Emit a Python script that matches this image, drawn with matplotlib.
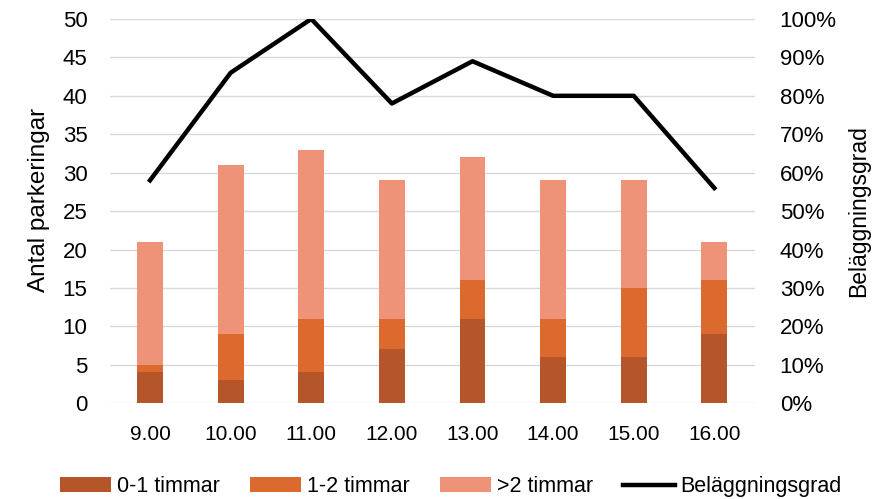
import numpy as np
import matplotlib
matplotlib.use("Agg")
import matplotlib.pyplot as plt
from matplotlib.ticker import PercentFormatter

plt.rcParams['font.family'] = ['Liberation Sans', 'DejaVu Sans']

# Data
tider = ['9.00', '10.00', '11.00', '12.00', '13.00', '14.00', '15.00', '16.00']
kort = [4, 3, 4, 7, 11, 6, 6, 9]        # 0-1 timmar
mellan = [1, 6, 7, 4, 5, 5, 9, 7]       # 1-2 timmar
lang = [16, 22, 22, 18, 16, 18, 14, 5]  # >2 timmar
belaggning = [58, 86, 100, 78, 89, 80, 80, 56]  # procent

c_kort = '#B5562A'
c_mellan = '#DC6A2E'
c_lang = '#EE9377'

fig = plt.figure(figsize=(8.92, 4.99), dpi=100)
ax = fig.add_axes([0.123, 0.192, 0.723, 0.770])
x = np.arange(len(tider))
w = 0.32

kort = np.array(kort)
mellan = np.array(mellan)
lang = np.array(lang)

ax.bar(x, kort, w, color=c_kort, label='0-1 timmar', zorder=2)
ax.bar(x, mellan, w, bottom=kort, color=c_mellan, label='1-2 timmar', zorder=2)
ax.bar(x, lang, w, bottom=kort + mellan, color=c_lang, label='>2 timmar', zorder=2)

ax.set_xlim(-0.5, len(tider) - 0.5)
ax.set_ylim(0, 50)
ax.set_yticks(range(0, 51, 5))
ax.set_xticks(x)
ax.set_xticklabels(tider)
ax.yaxis.grid(True, color='#D9D9D9', linewidth=1, zorder=0)
ax.set_axisbelow(True)
for s in ax.spines.values():
    s.set_visible(False)
ax.tick_params(axis='y', length=0, labelsize=16, pad=16)
ax.tick_params(axis='x', length=0, labelsize=15, pad=16)
ax.set_ylabel('Antal parkeringar', fontsize=17.5)
ax.yaxis.set_label_coords(-0.093, 0.53)

ax2 = ax.twinx()
ax2.plot(x, belaggning, color='black', linewidth=3.2, label='Beläggningsgrad', zorder=3)
ax2.set_ylim(0, 100)
ax2.set_yticks(range(0, 101, 10))
ax2.yaxis.set_major_formatter(PercentFormatter(decimals=0))
for s in ax2.spines.values():
    s.set_visible(False)
ax2.tick_params(length=0, labelsize=16, pad=18)
ax2.set_ylabel('Beläggningsgrad', fontsize=16.5)
ax2.yaxis.set_label_coords(1.144, 0.5)

h1, l1 = ax.get_legend_handles_labels()
h2, l2 = ax2.get_legend_handles_labels()
fig.legend(h1 + h2, l1 + l2, loc='lower center', bbox_to_anchor=(0.505, -0.035), ncol=4,
           frameon=False, fontsize=15.5, handlelength=2.4, handletextpad=0.25, columnspacing=1.4)

fig.savefig('out.png', dpi=100)
